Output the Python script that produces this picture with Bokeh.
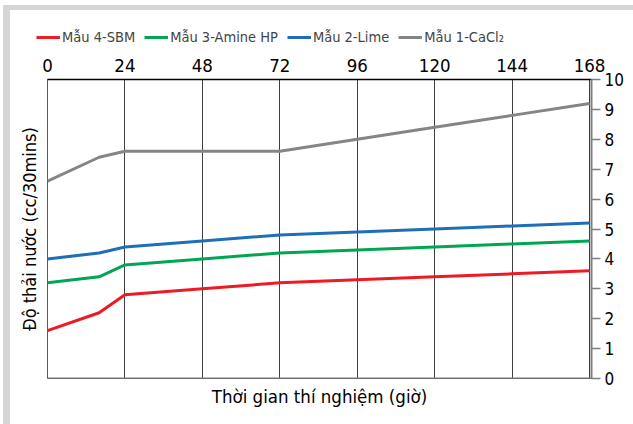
from bokeh.plotting import figure
from bokeh.layouts import column
from bokeh.models import Range1d, FixedTicker, Legend, LegendItem, LinearAxis, Span
from bokeh.embed import file_html
from bokeh.resources import INLINE

hours = [0, 16, 24, 48, 72, 96, 120, 144, 168]
sbm = [1.6, 2.2, 2.8, 3.0, 3.2, 3.3, 3.4, 3.5, 3.6]
amine = [3.2, 3.4, 3.8, 4.0, 4.2, 4.3, 4.4, 4.5, 4.6]
lime = [4.0, 4.2, 4.4, 4.6, 4.8, 4.9, 5.0, 5.1, 5.2]
cacl2 = [6.6, 7.4, 7.6, 7.6, 7.6, 8.0, 8.4, 8.8, 9.2]
series_names = ["Mẫu 4-SBM", "Mẫu 3-Amine HP", "Mẫu 2-Lime", "Mẫu 1-CaCl₂"]
x_ticks = [0, 24, 48, 72, 96, 120, 144, 168]
y_ticks = list(range(0, 11))
x_title = "Thời gian thí nghiệm (giờ)"
y_title = "Độ thải nước (cc/30mins)"

FONT = "DejaVu Sans Condensed"
colors = ["#ed1c24", "#00a651", "#1f6fb8", "#858585"]
GRAYBAND = "#d6d6d6"
all_series = [sbm, amine, lime, cacl2]

# ---- legend strip (separate figure so the legend is not clipped) ----
lg = figure(width=623, height=40, output_backend="svg", toolbar_location=None,
            x_range=Range1d(1000, 1001), y_range=Range1d(1000, 1001),
            x_axis_location=None, y_axis_location=None,
            min_border_left=0, min_border_right=0, min_border_top=0, min_border_bottom=0)
legend_x = 0
try:
    lg.frame_align = False
    legend_x = 26
except Exception:
    legend_x = 0
lg.outline_line_color = None
lg.xgrid.grid_line_color = None
lg.ygrid.grid_line_color = None
lg.background_fill_color = "white"
lg.border_fill_color = "white"
items = []
for name, ys, c in zip(series_names, all_series, colors):
    r = lg.line(hours, ys, line_color=c, line_width=3)
    items.append(LegendItem(label=name, renderers=[r]))
legend = Legend(items=items, orientation="horizontal", location=(legend_x, 3),
                label_text_font=FONT, label_text_font_size="14.5px",
                glyph_width=24, glyph_height=20, label_standoff=2, spacing=9,
                padding=0, margin=0, border_line_color=None, background_fill_alpha=0)
lg.add_layout(legend, "center")

# ---- main chart ----
p = figure(width=623, height=374, output_backend="svg", toolbar_location=None,
           x_range=Range1d(0, 168.6), y_range=Range1d(0, 10),
           x_axis_location="above", y_axis_location="right",
           min_border_left=37, min_border_right=42, min_border_top=29, min_border_bottom=46)
try:
    p.frame_align = False
except Exception:
    pass
p.background_fill_color = "white"
p.border_fill_color = "white"
p.outline_line_color = "#595959"
p.outline_line_width = 1

xa = p.xaxis[0]
xa.ticker = FixedTicker(ticks=x_ticks)
xa.major_tick_out = 0
xa.major_tick_in = 0
xa.minor_tick_line_color = None
xa.axis_line_color = "black"
xa.axis_line_width = 1.5
xa.major_label_text_font = FONT
xa.major_label_text_font_size = "18.5px"
xa.major_label_text_color = "black"
xa.major_label_standoff = 8

ya = p.yaxis[0]
ya.ticker = FixedTicker(ticks=y_ticks)
ya.major_tick_out = 9
ya.major_tick_in = 0
ya.minor_tick_line_color = None
ya.axis_line_color = "#7f7f7f"
ya.axis_line_width = 2
ya.major_tick_line_color = "#7f7f7f"
ya.major_tick_line_width = 1.5
ya.major_label_text_font = FONT
ya.major_label_text_font_size = "17px"
ya.major_label_text_color = "black"
ya.major_label_standoff = 4

bx = LinearAxis(ticker=FixedTicker(ticks=[]), axis_line_color=None,
                major_tick_line_color=None, minor_tick_line_color=None,
                major_label_text_font_size="0px",
                axis_label=x_title, axis_label_text_font=FONT,
                axis_label_text_font_size="18.5px", axis_label_text_font_style="normal",
                axis_label_text_color="black", axis_label_standoff=7)
p.add_layout(bx, "below")
ly = LinearAxis(ticker=FixedTicker(ticks=[]), axis_line_color=None,
                major_tick_line_color=None, minor_tick_line_color=None,
                major_label_text_font_size="0px",
                axis_label=y_title, axis_label_text_font=FONT,
                axis_label_text_font_size="18px", axis_label_text_font_style="normal",
                axis_label_text_color="black", axis_label_standoff=8)
p.add_layout(ly, "left")

p.xgrid.ticker = FixedTicker(ticks=x_ticks)
p.xgrid.grid_line_color = "#404040"
p.xgrid.grid_line_width = 1
p.ygrid.grid_line_color = None

p.add_layout(Span(location=0, dimension="width", line_color="#7f7f7f", line_width=2))

for ys, c in zip(all_series, colors):
    p.line(hours, ys, line_color=c, line_width=3)

layout = column(lg, p, spacing=0)
layout.styles = {"position": "relative", "left": "10px", "top": "10px",
                 "box-shadow": f"-7px -5px 0 0 {GRAYBAND}, -7px 0 0 0 {GRAYBAND}, 0 -5px 0 0 {GRAYBAND}"}

open("out.html", "w").write(file_html(layout, INLINE))
